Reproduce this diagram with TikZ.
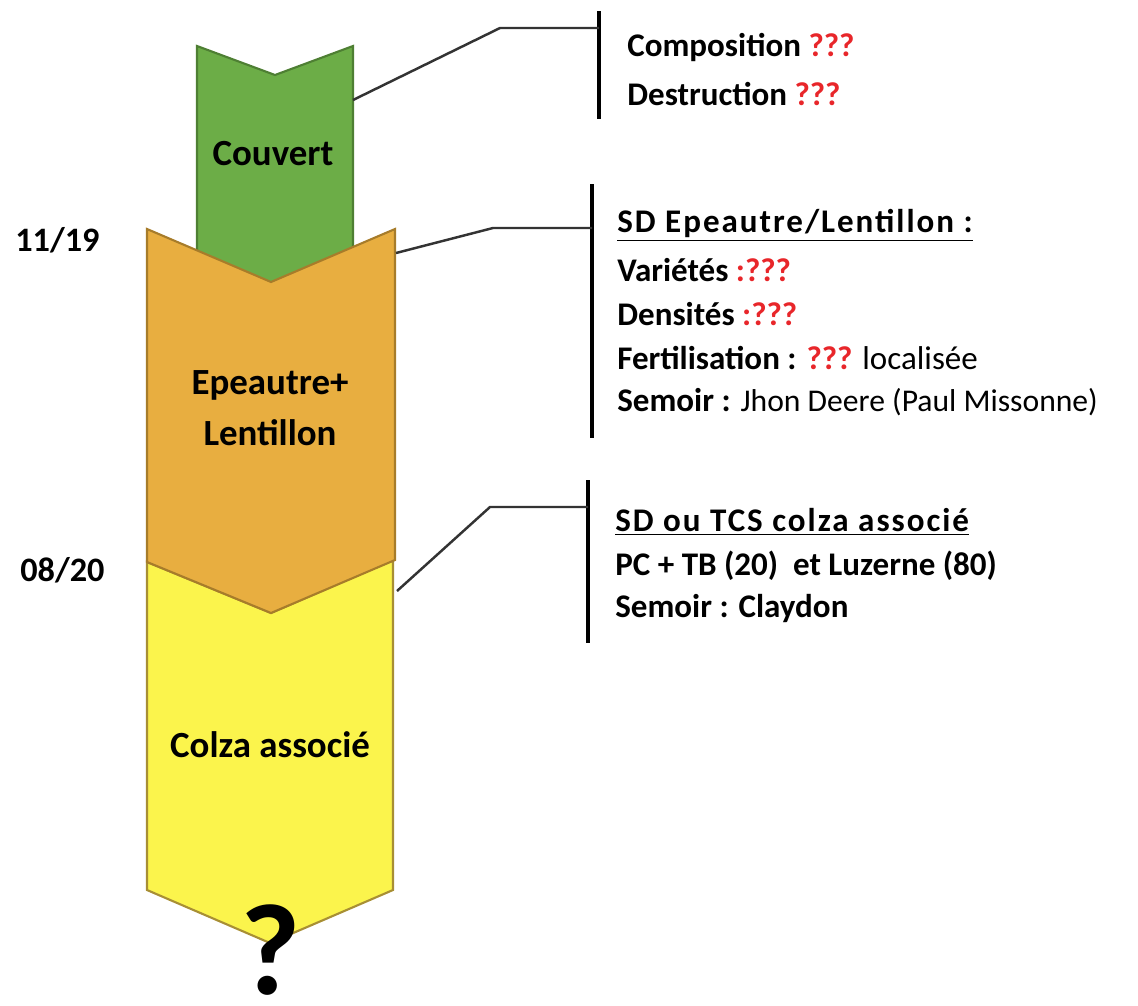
\documentclass[tikz,border=0pt]{standalone}
\usepackage{fontspec}
\setmainfont{Carlito}
\definecolor{couvertfill}{HTML}{6CAD47}
\definecolor{couvertdraw}{HTML}{4E7F33}
\definecolor{epeautrefill}{HTML}{E8AE40}
\definecolor{epeautredraw}{HTML}{A77C2A}
\definecolor{colzafill}{HTML}{FBF44C}
\definecolor{colzadraw}{HTML}{A88F34}
\definecolor{qred}{HTML}{E8262A}
\definecolor{linkgray}{HTML}{333333}
\newcommand{\qq}[1]{\textcolor{qred}{#1}}
\newcommand{\notehead}[1]{{\addfontfeatures{LetterSpace=6}\bfseries\underline{#1}}}
\tikzset{
  stage/.style={line width=1.2pt, line join=miter},
  stagelabel/.style={font=\fontsize{21}{29}\selectfont\bfseries, align=center, inner sep=0pt},
  datelabel/.style={font=\fontsize{19.5}{21}\selectfont\bfseries, anchor=west, inner sep=0pt},
  infoline/.style={font=\fontsize{18.8}{22}\selectfont, anchor=west, inner sep=0pt},
  link/.style={draw=linkgray, line width=1.4pt},
  bar/.style={draw=black, line width=1.8pt},
}
\begin{document}
\begin{tikzpicture}[x=0.02cm, y=-0.02cm]
\useasboundingbox (0,0) rectangle (1138,1005);

% chevron stages, from top to bottom
\path[stage, fill=couvertfill, draw=couvertdraw]
  (197,46) -- (275,75) -- (353,46) -- (353,262) -- (272,284) -- (197,262) -- cycle;
\path[stage, fill=colzafill, draw=colzadraw]
  (147,562) -- (271,613) -- (393,560) -- (393,890) -- (270,943) -- (147,890) -- cycle;
\path[stage, fill=epeautrefill, draw=epeautredraw]
  (147,229) -- (271,282) -- (395,229) -- (395,560) -- (271,613) -- (147,562) -- cycle;

\node[stagelabel] (couvert) at (273,154) {Couvert};
\node[stagelabel] (epeautre) at (270,408) {Epeautre+\\Lentillon};
\node[stagelabel] (colza) at (270,745) {Colza associé};
\node[font=\fontsize{74}{74}\selectfont\bfseries, inner sep=0pt, anchor=base] (unknown) at (271,994) {?};

% dates
\node[datelabel] (d1) at (15,240) {11/19};
\node[datelabel] (d2) at (20,570) {08/20};

% anchor points on the stage edges
\coordinate (c1) at (353,100);
\coordinate (c2) at (396,253);
\coordinate (c3) at (397,591);

% brackets
\coordinate (b1t) at (599,11);  \coordinate (b1b) at (599,119);
\coordinate (b2t) at (592,184); \coordinate (b2b) at (592,438);
\coordinate (b3t) at (588,480); \coordinate (b3b) at (588,643);
\draw[bar] (b1t) -- (b1b);
\draw[bar] (b2t) -- (b2b);
\draw[bar] (b3t) -- (b3b);

% connectors
\coordinate (k1) at (500,28);  \coordinate (e1) at (599,28);
\coordinate (k2) at (493,228); \coordinate (e2) at (592,228);
\coordinate (k3) at (490,507); \coordinate (e3) at (588,507);
\draw[link] (c1) -- (k1) -- (e1);
\draw[link] (c2) -- (k2) -- (e2);
\draw[link] (c3) -- (k3) -- (e3);

% notes
\node[infoline] (n11) at (627,47) {\bfseries Composition \qq{???}};
\node[infoline] (n12) at (627,94) {\bfseries Destruction \qq{???}};

\node[infoline] (n21) at (617,225) {\notehead{SD Epeautre/Lentillon :}};
\node[infoline] (n22) at (617,270) {\bfseries Variétés \qq{:???}};
\node[infoline] (n23) at (617,314) {\bfseries Densités \qq{:???}};
\node[infoline] (n24) at (617,358) {\textbf{Fertilisation : \qq{???}} localisée};
\node[infoline] (n25) at (617,402) {\textbf{Semoir :} {\fontsize{18}{22}\selectfont Jhon Deere (Paul Missonne)}};

\node[infoline] (n31) at (615,522) {\notehead{SD ou TCS colza associé}};
\node[infoline] (n32) at (615,566) {\bfseries PC + TB (20)\ \ et Luzerne (80)};
\node[infoline] (n33) at (615,608) {\bfseries Semoir : Claydon};
\end{tikzpicture}
\end{document}
